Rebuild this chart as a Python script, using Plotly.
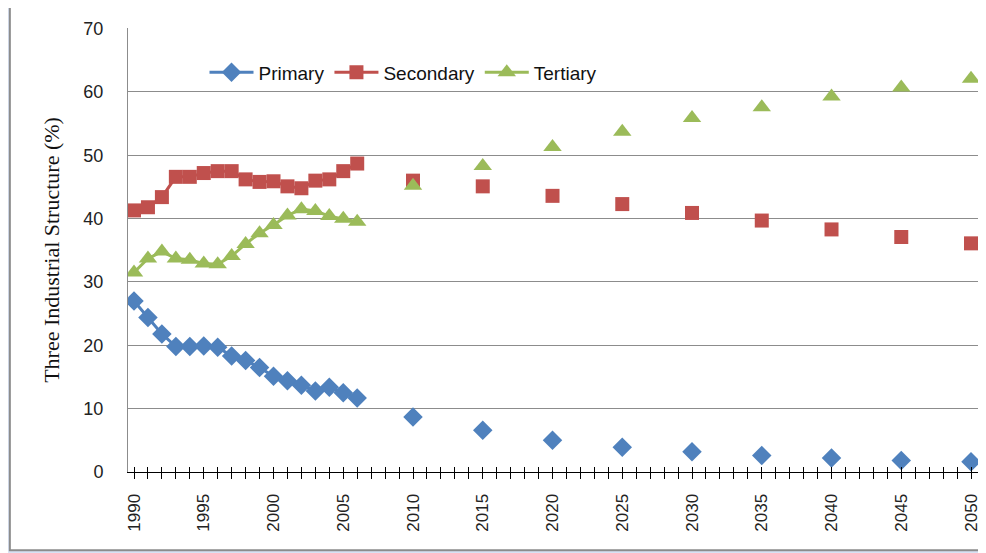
import plotly.graph_objects as go

years_hist = list(range(1990, 2007))
years_proj = [2010, 2015, 2020, 2025, 2030, 2035, 2040, 2045, 2050]

primary_hist = [27.0, 24.4, 21.8, 19.8, 19.8, 19.9, 19.7, 18.3, 17.6, 16.5,
                15.1, 14.4, 13.7, 12.8, 13.4, 12.5, 11.7]
secondary_hist = [41.3, 41.8, 43.4, 46.6, 46.6, 47.2, 47.5, 47.5, 46.2, 45.8,
                  45.9, 45.1, 44.8, 46.0, 46.2, 47.5, 48.7]
tertiary_hist = [31.5, 33.7, 34.8, 33.7, 33.5, 32.9, 32.8, 34.1, 36.0, 37.7,
                 39.0, 40.5, 41.5, 41.2, 40.4, 40.0, 39.5]

primary_proj = [8.7, 6.6, 5.0, 3.9, 3.2, 2.6, 2.2, 1.8, 1.6]
secondary_proj = [46.0, 45.1, 43.6, 42.3, 40.9, 39.7, 38.3, 37.1, 36.1]
tertiary_proj = [45.2, 48.3, 51.3, 53.7, 55.9, 57.6, 59.3, 60.7, 62.1]

tick_years = list(range(1990, 2051, 5))

series = [
    ("Primary", primary_hist, primary_proj, "#4F81BD", "diamond", 15),
    ("Secondary", secondary_hist, secondary_proj, "#C0504D", "square", 14),
    ("Tertiary", tertiary_hist, tertiary_proj, "#9BBB59", "triangle-up", 16),
]

fig = go.Figure()
for name, hist, proj, color, symbol, size in series:
    fig.add_trace(go.Scatter(x=years_hist, y=hist, name=name, mode="lines+markers",
                             line=dict(color=color, width=3),
                             marker=dict(symbol=symbol, size=size, color=color)))
    fig.add_trace(go.Scatter(x=years_proj, y=proj, name=name, mode="markers",
                             showlegend=False,
                             marker=dict(symbol=symbol, size=size, color=color)))

# white chart frame on the light blue slide background
fig.add_shape(type="rect", xref="paper", yref="paper",
              x0=-0.139, x1=1.05, y0=-0.176, y1=1.06,
              fillcolor="white", line=dict(color="#8c8c8c", width=2), layer="below")

xrange = [1989.57, 2050.5]

fig.update_layout(
    width=986, height=553,
    margin=dict(l=120, r=16, t=20, b=89),
    paper_bgcolor="#d8e2f4",
    plot_bgcolor="rgba(0,0,0,0)",
    font=dict(family="Liberation Sans, Arial, sans-serif", color="#222"),
    showlegend=True,
    legend=dict(orientation="h", x=0.09, y=0.90, xanchor="left", yanchor="middle",
                bgcolor="rgba(0,0,0,0)", font=dict(size=19, color="#111"),
                itemwidth=44, tracegroupgap=0),
    xaxis=dict(range=xrange, tickvals=tick_years,
               ticktext=[str(y) for y in tick_years], tickangle=-90,
               tickfont=dict(size=17, color="#222"), ticklabelstandoff=8,
               showgrid=False, zeroline=False, showline=True,
               linecolor="black", linewidth=1.2,
               ticks="outside", ticklen=6, tickcolor="black",
               minor=dict(dtick=1, tick0=1990, ticks="outside", ticklen=6,
                          tickcolor="black", showgrid=False)),
    xaxis2=dict(range=xrange, overlaying="x", anchor="y", side="bottom",
                showticklabels=False, showgrid=False, zeroline=False,
                tickvals=list(range(1990, 2051)), ticks="inside", ticklen=5,
                tickcolor="black"),
    yaxis=dict(range=[0, 70.1], tickvals=[0, 10, 20, 30, 40, 50, 60, 70],
               showgrid=True, gridcolor="#8c8c8c",
               gridwidth=1, zeroline=False, showline=True, linecolor="#8c8c8c",
               ticks="", ticklabelstandoff=20,
               tickfont=dict(size=18, color="#222"),
               title=dict(text="Three Industrial Structure (%)", standoff=17,
                          font=dict(family="Liberation Serif, Times New Roman, serif",
                                    size=22, color="#111"))),
)

# invisible trace to activate xaxis2 for crossing tick marks
fig.add_trace(go.Scatter(x=[1990], y=[0], xaxis="x2", mode="markers",
                         marker=dict(opacity=0), showlegend=False, hoverinfo="skip"))

fig.write_html("out.html")
